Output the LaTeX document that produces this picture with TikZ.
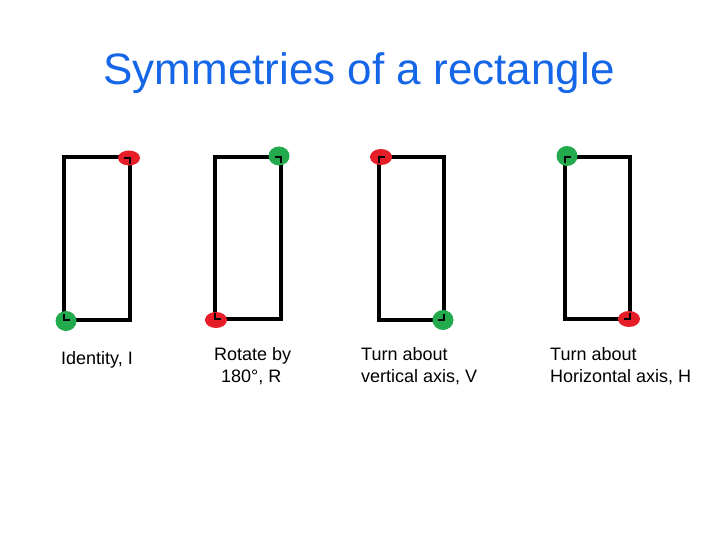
\documentclass[tikz,border=0pt]{standalone}
\usepackage{fontspec}
\setmainfont{Liberation Sans}
\definecolor{titleblue}{RGB}{22,102,232}
\definecolor{dotred}{RGB}{230,30,40}
\definecolor{dotgreen}{RGB}{34,170,76}
\begin{document}
\begin{tikzpicture}[x=1pt,y=-1pt,
  rectbox/.style={draw=black,line width=3.4pt},
  reddot/.style={fill=dotred,draw=none},
  greendot/.style={fill=dotgreen,draw=none},
  cornertick/.style={draw=black,line width=2.8pt},
  lbl/.style={font=\fontsize{18}{22}\selectfont,anchor=base west,inner sep=0pt,align=left}]
\useasboundingbox (0,0) rectangle (720,540);
\node[anchor=base,inner sep=0pt,text=titleblue,font=\fontsize{44}{50}\selectfont] (title) at (359,85) {Symmetries of a rectangle};
% rectangle 1: identity
\draw[rectbox] (64,157) rectangle (130,320);
\fill[reddot] (129,158) ellipse (11 and 7.5);
\fill[greendot] (66,321) ellipse (10.5 and 10);
\draw[cornertick] (124,158) -- (130,158) -- (130,164);
\draw[cornertick] (64,314) -- (64,320) -- (70,320);
% rectangle 2: rotate
\draw[rectbox] (215,157) rectangle (281,319);
\fill[greendot] (279,156) ellipse (10.5 and 9.5);
\fill[reddot] (216,320) ellipse (11 and 8);
\draw[cornertick] (275,157) -- (281,157) -- (281,163);
\draw[cornertick] (215,313) -- (215,319) -- (221,319);
% rectangle 3: vertical axis
\draw[rectbox] (379,157) rectangle (444,320);
\fill[reddot] (381,157) ellipse (11 and 8);
\fill[greendot] (443,320) ellipse (10.5 and 10);
\draw[cornertick] (379,163) -- (379,157) -- (385,157);
\draw[cornertick] (444,314) -- (444,320) -- (438,320);
% rectangle 4: horizontal axis
\draw[rectbox] (565,157) rectangle (630,319);
\fill[greendot] (567,156) ellipse (10.5 and 10);
\fill[reddot] (629,319) ellipse (11 and 8);
\draw[cornertick] (565,163) -- (565,157) -- (571,157);
\draw[cornertick] (630,313) -- (630,319) -- (624,319);
% labels
\node[lbl] (l1) at (61,364) {Identity, I};
\node[lbl] (l2a) at (214,360) {Rotate by};
\node[lbl] (l2b) at (221,382) {180°, R};
\node[lbl] (l3a) at (361,360) {Turn about};
\node[lbl] (l3b) at (361,382) {vertical axis, V};
\node[lbl] (l4a) at (550,360) {Turn about};
\node[lbl] (l4b) at (550,382) {Horizontal axis, H};
\end{tikzpicture}
\end{document}
